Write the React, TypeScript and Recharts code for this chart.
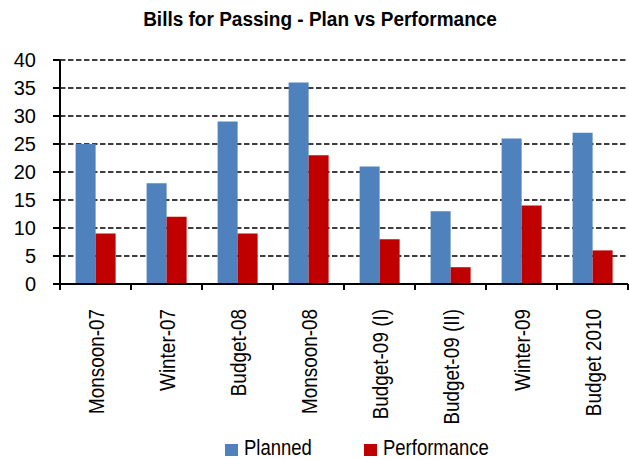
import React from "react";
import { BarChart, Bar, XAxis, YAxis, CartesianGrid, Legend } from "recharts";

const categories = [
  "Monsoon-07",
  "Winter-07",
  "Budget-08",
  "Monsoon-08",
  "Budget-09 (I)",
  "Budget-09 (II)",
  "Winter-09",
  "Budget 2010",
];
const planned = [25, 18, 29, 36, 21, 13, 26, 27];
const performance = [9, 12, 9, 23, 8, 3, 14, 6];
const yTicks = [0, 5, 10, 15, 20, 25, 30, 35, 40];

const WIDTH = 629;
const HEIGHT = 459;
const LEFT = 60;
const RIGHT_MARGIN = 1;
const PLOT_W = WIDTH - LEFT - RIGHT_MARGIN;
const Y_MAX = 40;
const FONT = "'Liberation Sans', Arial, sans-serif";
// no narrow face installed, so squeeze text horizontally instead
const SQUEEZE = 0.86;

const BLUE = "#4F81BD";
const RED = "#C00000";

const data = categories.map((name, i) => ({
  name,
  planned: planned[i],
  performance: performance[i],
}));

function CategoryTick(props: any) {
  const { x, y, payload, index } = props;
  const half = PLOT_W / categories.length / 2;
  return (
    <g>
      <line x1={x - half} x2={x - half} y1={y} y2={y + 6} stroke="#000" strokeWidth={2} />
      {index === categories.length - 1 && (
        <line x1={x + half} x2={x + half} y1={y} y2={y + 6} stroke="#000" strokeWidth={2} />
      )}
      <text
        transform={`translate(${x},${y + 25}) rotate(-90) scale(${SQUEEZE},1)`}
        textAnchor="end"
        dominantBaseline="central"
        fontSize={22}
        fontFamily={FONT}
        fill="#000"
      >
        {payload.value}
      </text>
    </g>
  );
}

function LegendContent() {
  const items = [
    { label: "Planned", color: BLUE, x: 225 },
    { label: "Performance", color: RED, x: 364 },
  ];
  return (
    <div style={{ position: "relative", height: 20 }}>
      {items.map((it) => (
        <div
          key={it.label}
          style={{
            position: "absolute",
            left: it.x,
            top: 0,
            display: "flex",
            alignItems: "flex-start",
            whiteSpace: "nowrap",
          }}
        >
          <span
            style={{
              display: "inline-block",
              width: 13,
              height: 12,
              background: it.color,
              marginTop: 6,
              marginRight: 6,
            }}
          />
          <span
            style={{
              display: "inline-block",
              fontFamily: FONT,
              fontSize: 22,
              color: "#000",
              lineHeight: "20px",
              transform: `scaleX(${SQUEEZE - 0.02})`,
              transformOrigin: "left center",
            }}
          >
            {it.label}
          </span>
        </div>
      ))}
    </div>
  );
}

export default function App() {
  return (
    <div
      style={{
        position: "absolute",
        left: 0,
        top: 0,
        width: WIDTH,
        height: HEIGHT,
        background: "#fff",
        overflow: "hidden",
      }}
    >
      <div
        style={{
          position: "absolute",
          top: 8,
          left: 320,
          transform: "translateX(-50%) scaleX(0.95)",
          whiteSpace: "nowrap",
          fontFamily: FONT,
          fontWeight: "bold",
          fontSize: 20,
          color: "#000",
        }}
      >
        Bills for Passing - Plan vs Performance
      </div>
      <BarChart
        width={WIDTH}
        height={HEIGHT}
        data={data}
        margin={{ top: 60, right: RIGHT_MARGIN, left: 0, bottom: 55 }}
        barGap={0}
        barCategoryGap="22%"
      >
        <CartesianGrid
          vertical={false}
          stroke="#000"
          strokeWidth={1.5}
          strokeDasharray="5.5 2.5"
          horizontalCoordinatesGenerator={({ offset }: any) =>
            yTicks
              .filter((t) => t > 0)
              .map((t) => offset.top + offset.height * (1 - t / Y_MAX))
          }
        />
        <XAxis
          dataKey="name"
          interval={0}
          height={120}
          tickSize={0}
          tickMargin={0}
          tickLine={false}
          axisLine={{ stroke: "#000", strokeWidth: 2 }}
          tick={<CategoryTick />}
        />
        <YAxis
          domain={[0, Y_MAX]}
          ticks={yTicks}
          interval={0}
          width={LEFT}
          tickSize={7}
          tickMargin={17}
          axisLine={{ stroke: "#000", strokeWidth: 2 }}
          tickLine={{ stroke: "#000", strokeWidth: 2 }}
          tick={{ fontSize: 20, fontFamily: FONT, fill: "#000" }}
        />
        <Legend
          layout="horizontal"
          verticalAlign="middle"
          wrapperStyle={{ top: 438, left: 0, width: WIDTH }}
          content={<LegendContent />}
        />
        <Bar dataKey="planned" name="Planned" fill={BLUE} isAnimationActive={false} />
        <Bar dataKey="performance" name="Performance" fill={RED} isAnimationActive={false} />
      </BarChart>
    </div>
  );
}
